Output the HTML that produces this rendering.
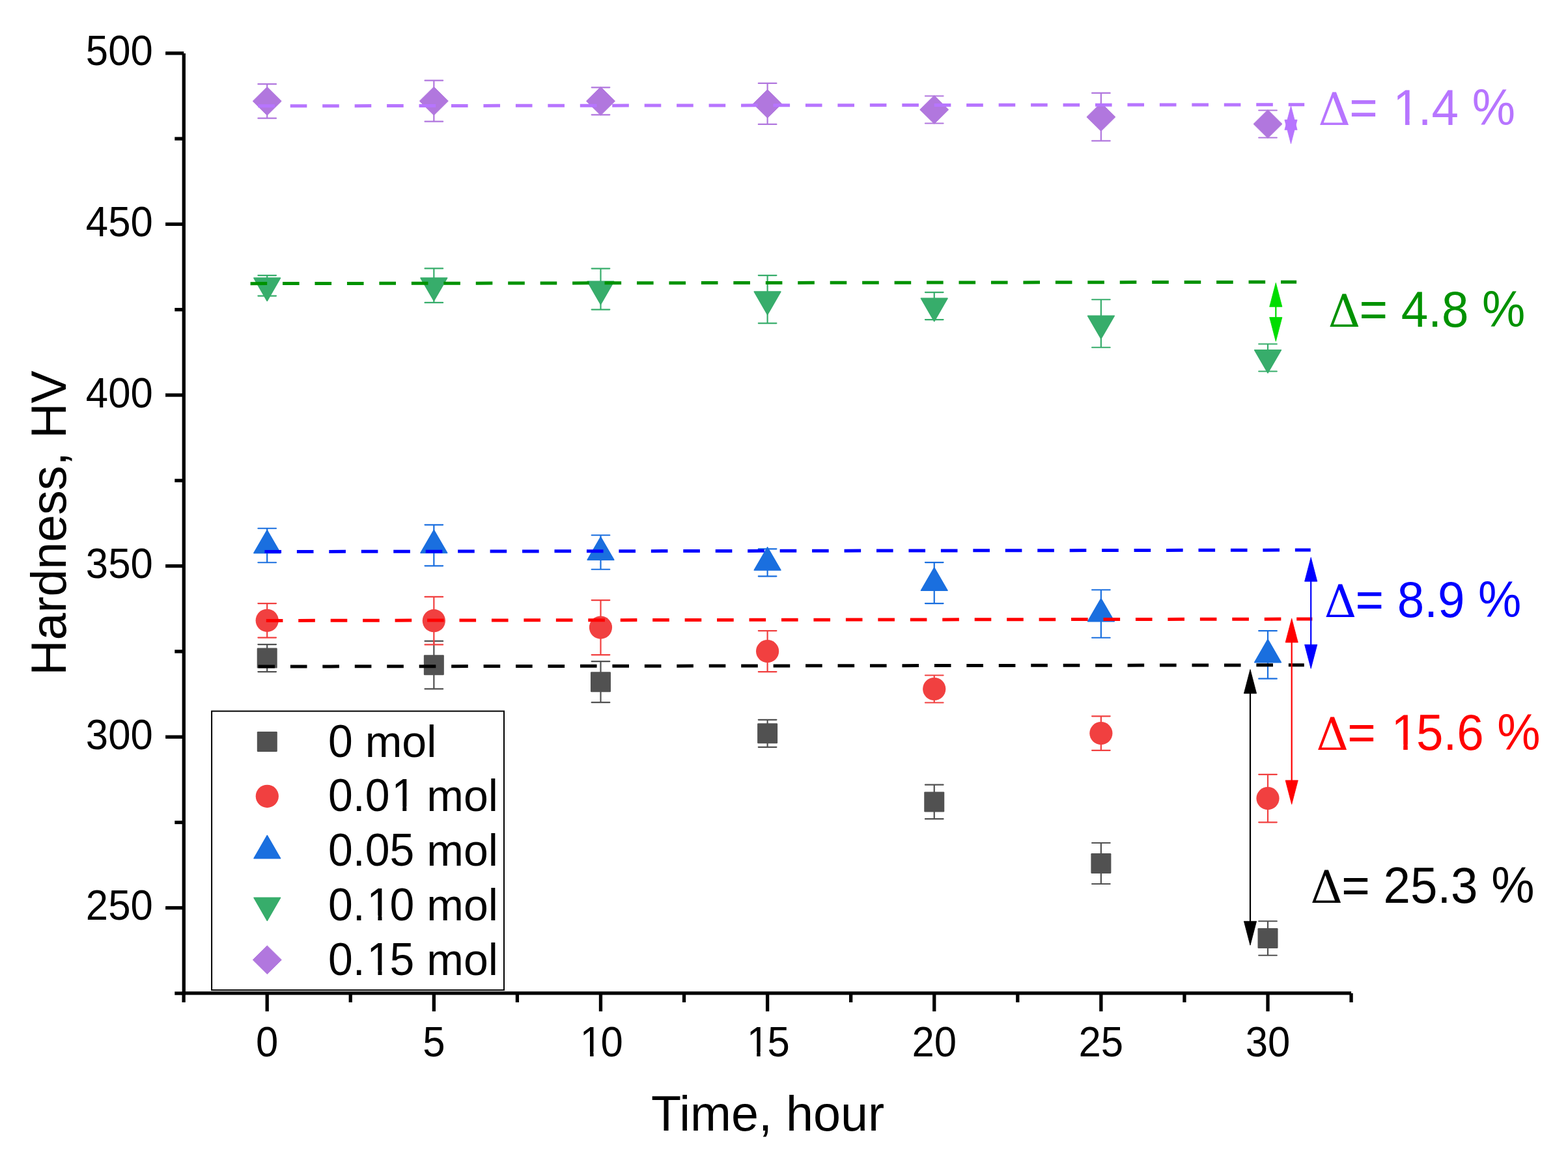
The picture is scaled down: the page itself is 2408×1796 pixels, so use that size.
<!DOCTYPE html>
<html><head><meta charset="utf-8"><title>Hardness vs Time</title><style>html,body{margin:0;padding:0;background:#fff;}svg{display:block;}</style></head><body>
<svg width="2408" height="1796" viewBox="0 0 2408 1796">
<rect width="2408" height="1796" fill="#fff"/>
<g stroke="#000" stroke-width="5.3" stroke-linecap="butt"><line x1="282.3" y1="82.10" x2="282.3" y2="1528.55"/><line x1="279.65" y1="1525.9" x2="2075.08" y2="1525.9"/><line x1="254.1" y1="1394.80" x2="282.30" y2="1394.80"/><line x1="254.1" y1="1132.20" x2="282.30" y2="1132.20"/><line x1="254.1" y1="869.60" x2="282.30" y2="869.60"/><line x1="254.1" y1="607.00" x2="282.30" y2="607.00"/><line x1="254.1" y1="344.40" x2="282.30" y2="344.40"/><line x1="254.1" y1="81.80" x2="282.30" y2="81.80"/><line x1="268.3" y1="1526.10" x2="282.30" y2="1526.10"/><line x1="268.3" y1="1263.50" x2="282.30" y2="1263.50"/><line x1="268.3" y1="1000.90" x2="282.30" y2="1000.90"/><line x1="268.3" y1="738.30" x2="282.30" y2="738.30"/><line x1="268.3" y1="475.70" x2="282.30" y2="475.70"/><line x1="268.3" y1="213.10" x2="282.30" y2="213.10"/><line x1="410.20" y1="1525.90" x2="410.20" y2="1553.8"/><line x1="666.34" y1="1525.90" x2="666.34" y2="1553.8"/><line x1="922.47" y1="1525.90" x2="922.47" y2="1553.8"/><line x1="1178.61" y1="1525.90" x2="1178.61" y2="1553.8"/><line x1="1434.74" y1="1525.90" x2="1434.74" y2="1553.8"/><line x1="1690.88" y1="1525.90" x2="1690.88" y2="1553.8"/><line x1="1947.01" y1="1525.90" x2="1947.01" y2="1553.8"/><line x1="282.13" y1="1525.90" x2="282.13" y2="1539.9"/><line x1="538.27" y1="1525.90" x2="538.27" y2="1539.9"/><line x1="794.40" y1="1525.90" x2="794.40" y2="1539.9"/><line x1="1050.54" y1="1525.90" x2="1050.54" y2="1539.9"/><line x1="1306.67" y1="1525.90" x2="1306.67" y2="1539.9"/><line x1="1562.81" y1="1525.90" x2="1562.81" y2="1539.9"/><line x1="1818.94" y1="1525.90" x2="1818.94" y2="1539.9"/><line x1="2075.08" y1="1525.90" x2="2075.08" y2="1539.9"/></g>
<g font-family="Liberation Sans, sans-serif" font-size="61.7" fill="#000"><text transform="translate(234.8,1413.30) scale(1,1.045)" text-anchor="end">250</text><text transform="translate(234.8,1150.70) scale(1,1.045)" text-anchor="end">300</text><text transform="translate(234.8,888.10) scale(1,1.045)" text-anchor="end">350</text><text transform="translate(234.8,625.50) scale(1,1.045)" text-anchor="end">400</text><text transform="translate(234.8,362.90) scale(1,1.045)" text-anchor="end">450</text><text transform="translate(234.8,100.30) scale(1,1.045)" text-anchor="end">500</text><g transform="translate(393.04,1622.7) scale(1,1.045)"><text>0</text></g><g transform="translate(649.18,1622.7) scale(1,1.045)"><text>5</text></g><g transform="translate(888.16,1622.7) scale(1,1.045)"><text><tspan dx="2.41">1</tspan><tspan dx="-2.41">0</tspan></text><g fill="#fff"><rect x="5.72" y="-6.48" width="12.20" height="7.68"/><rect x="23.38" y="-6.48" width="11.42" height="7.68"/></g></g><g transform="translate(1144.29,1622.7) scale(1,1.045)"><text><tspan dx="2.41">1</tspan><tspan dx="-2.41">5</tspan></text><g fill="#fff"><rect x="5.72" y="-6.48" width="12.20" height="7.68"/><rect x="23.38" y="-6.48" width="11.42" height="7.68"/></g></g><g transform="translate(1400.43,1622.7) scale(1,1.045)"><text>20</text></g><g transform="translate(1656.56,1622.7) scale(1,1.045)"><text>25</text></g><g transform="translate(1912.70,1622.7) scale(1,1.045)"><text>30</text></g></g>
<text transform="translate(1179.0,1737.2) scale(1,1.015)" text-anchor="middle" font-family="Liberation Sans, sans-serif" font-size="75.55" fill="#000">Time, hour</text>
<text transform="translate(101.0,803.5) rotate(-90) scale(1,1.015)" text-anchor="middle" font-family="Liberation Sans, sans-serif" font-size="75.3" fill="#000">Hardness, HV</text>
<g stroke-width="2.2" stroke-linecap="round" fill="none"><path d="M410.20,990.09V1032.11M396.40,990.09h27.6M396.40,1032.11h27.6" stroke="#515151"/><path d="M666.34,984.94V1058.46M652.54,984.94h27.6M652.54,1058.46h27.6" stroke="#515151"/><path d="M922.47,1016.19V1079.21M908.67,1016.19h27.6M908.67,1079.21h27.6" stroke="#515151"/><path d="M1178.61,1105.79V1147.81M1164.81,1105.79h27.6M1164.81,1147.81h27.6" stroke="#515151"/><path d="M1434.74,1205.64V1258.16M1420.94,1205.64h27.6M1420.94,1258.16h27.6" stroke="#515151"/><path d="M1690.88,1294.99V1358.01M1677.08,1294.99h27.6M1677.08,1358.01h27.6" stroke="#515151"/><path d="M1947.01,1415.24V1467.76M1933.21,1415.24h27.6M1933.21,1467.76h27.6" stroke="#515151"/><path d="M410.20,927.04V979.56M396.40,927.04h27.6M396.40,979.56h27.6" stroke="#F14040"/><path d="M666.34,916.94V990.46M652.54,916.94h27.6M652.54,990.46h27.6" stroke="#F14040"/><path d="M922.47,922.08V1006.12M908.67,922.08h27.6M908.67,1006.12h27.6" stroke="#F14040"/><path d="M1178.61,969.09V1032.11M1164.81,969.09h27.6M1164.81,1032.11h27.6" stroke="#F14040"/><path d="M1434.74,1037.49V1079.51M1420.94,1037.49h27.6M1420.94,1079.51h27.6" stroke="#F14040"/><path d="M1690.88,1100.34V1152.86M1677.08,1100.34h27.6M1677.08,1152.86h27.6" stroke="#F14040"/><path d="M1947.01,1189.84V1263.36M1933.21,1189.84h27.6M1933.21,1263.36h27.6" stroke="#F14040"/><path d="M410.20,811.74V864.26M396.40,811.74h27.6M396.40,864.26h27.6" stroke="#1A6FDF"/><path d="M666.34,806.29V869.31M652.54,806.29h27.6M652.54,869.31h27.6" stroke="#1A6FDF"/><path d="M922.47,822.24V874.76M908.67,822.24h27.6M908.67,874.76h27.6" stroke="#1A6FDF"/><path d="M1178.61,843.29V885.31M1164.81,843.29h27.6M1164.81,885.31h27.6" stroke="#1A6FDF"/><path d="M1434.74,864.09V927.11M1420.94,864.09h27.6M1420.94,927.11h27.6" stroke="#1A6FDF"/><path d="M1690.88,906.24V979.76M1677.08,906.24h27.6M1677.08,979.76h27.6" stroke="#1A6FDF"/><path d="M1947.01,969.14V1042.66M1933.21,969.14h27.6M1933.21,1042.66h27.6" stroke="#1A6FDF"/><path d="M410.20,423.04V454.56M396.40,423.04h27.6M396.40,454.56h27.6" stroke="#37AD6B"/><path d="M666.34,412.44V464.96M652.54,412.44h27.6M652.54,464.96h27.6" stroke="#37AD6B"/><path d="M922.47,412.59V475.61M908.67,412.59h27.6M908.67,475.61h27.6" stroke="#37AD6B"/><path d="M1178.61,423.04V496.56M1164.81,423.04h27.6M1164.81,496.56h27.6" stroke="#37AD6B"/><path d="M1434.74,449.09V491.11M1420.94,449.09h27.6M1420.94,491.11h27.6" stroke="#37AD6B"/><path d="M1690.88,460.24V533.76M1677.08,460.24h27.6M1677.08,533.76h27.6" stroke="#37AD6B"/><path d="M1947.01,528.49V570.51M1933.21,528.49h27.6M1933.21,570.51h27.6" stroke="#37AD6B"/><path d="M410.20,129.14V181.66M396.40,129.14h27.6M396.40,181.66h27.6" stroke="#B177DE"/><path d="M666.34,123.69V186.71M652.54,123.69h27.6M652.54,186.71h27.6" stroke="#B177DE"/><path d="M922.47,134.29V176.31M908.67,134.29h27.6M908.67,176.31h27.6" stroke="#B177DE"/><path d="M1178.61,127.89V190.91M1164.81,127.89h27.6M1164.81,190.91h27.6" stroke="#B177DE"/><path d="M1434.74,147.49V189.51M1420.94,147.49h27.6M1420.94,189.51h27.6" stroke="#B177DE"/><path d="M1690.88,142.94V216.46M1677.08,142.94h27.6M1677.08,216.46h27.6" stroke="#B177DE"/><path d="M1947.01,169.49V211.51M1933.21,169.49h27.6M1933.21,211.51h27.6" stroke="#B177DE"/></g>
<g><rect x="394.70" y="995.60" width="31.0" height="31.0" rx="1.2" fill="#515151"/><rect x="650.84" y="1006.20" width="31.0" height="31.0" rx="1.2" fill="#515151"/><rect x="906.97" y="1032.20" width="31.0" height="31.0" rx="1.2" fill="#515151"/><rect x="1163.11" y="1111.30" width="31.0" height="31.0" rx="1.2" fill="#515151"/><rect x="1419.24" y="1216.40" width="31.0" height="31.0" rx="1.2" fill="#515151"/><rect x="1675.38" y="1311.00" width="31.0" height="31.0" rx="1.2" fill="#515151"/><rect x="1931.51" y="1426.00" width="31.0" height="31.0" rx="1.2" fill="#515151"/><circle cx="410.20" cy="953.30" r="17.6" fill="#F14040"/><circle cx="666.34" cy="953.70" r="17.6" fill="#F14040"/><circle cx="922.47" cy="964.10" r="17.6" fill="#F14040"/><circle cx="1178.61" cy="1000.60" r="17.6" fill="#F14040"/><circle cx="1434.74" cy="1058.50" r="17.6" fill="#F14040"/><circle cx="1690.88" cy="1126.60" r="17.6" fill="#F14040"/><circle cx="1947.01" cy="1226.60" r="17.6" fill="#F14040"/><path d="M410.20,814.56 L430.50,849.72 L389.90,849.72 Z" fill="#1A6FDF" stroke="#1A6FDF" stroke-width="1.6" stroke-linejoin="round"/><path d="M666.34,814.36 L686.63,849.52 L646.04,849.52 Z" fill="#1A6FDF" stroke="#1A6FDF" stroke-width="1.6" stroke-linejoin="round"/><path d="M922.47,825.06 L942.77,860.22 L902.17,860.22 Z" fill="#1A6FDF" stroke="#1A6FDF" stroke-width="1.6" stroke-linejoin="round"/><path d="M1178.61,840.86 L1198.90,876.02 L1158.31,876.02 Z" fill="#1A6FDF" stroke="#1A6FDF" stroke-width="1.6" stroke-linejoin="round"/><path d="M1434.74,872.16 L1455.04,907.32 L1414.44,907.32 Z" fill="#1A6FDF" stroke="#1A6FDF" stroke-width="1.6" stroke-linejoin="round"/><path d="M1690.88,919.56 L1711.17,954.72 L1670.58,954.72 Z" fill="#1A6FDF" stroke="#1A6FDF" stroke-width="1.6" stroke-linejoin="round"/><path d="M1947.01,982.46 L1967.31,1017.62 L1926.71,1017.62 Z" fill="#1A6FDF" stroke="#1A6FDF" stroke-width="1.6" stroke-linejoin="round"/><path d="M410.20,462.24 L430.50,427.08 L389.90,427.08 Z" fill="#37AD6B" stroke="#37AD6B" stroke-width="1.6" stroke-linejoin="round"/><path d="M666.34,462.14 L686.63,426.98 L646.04,426.98 Z" fill="#37AD6B" stroke="#37AD6B" stroke-width="1.6" stroke-linejoin="round"/><path d="M922.47,467.54 L942.77,432.38 L902.17,432.38 Z" fill="#37AD6B" stroke="#37AD6B" stroke-width="1.6" stroke-linejoin="round"/><path d="M1178.61,483.24 L1198.90,448.08 L1158.31,448.08 Z" fill="#37AD6B" stroke="#37AD6B" stroke-width="1.6" stroke-linejoin="round"/><path d="M1434.74,493.54 L1455.04,458.38 L1414.44,458.38 Z" fill="#37AD6B" stroke="#37AD6B" stroke-width="1.6" stroke-linejoin="round"/><path d="M1690.88,520.44 L1711.17,485.28 L1670.58,485.28 Z" fill="#37AD6B" stroke="#37AD6B" stroke-width="1.6" stroke-linejoin="round"/><path d="M1947.01,572.94 L1967.31,537.78 L1926.71,537.78 Z" fill="#37AD6B" stroke="#37AD6B" stroke-width="1.6" stroke-linejoin="round"/><path d="M410.20,133.60 L432.20,155.40 L410.20,177.20 L388.20,155.40 Z" fill="#B177DE" stroke="#B177DE" stroke-width="1" stroke-linejoin="round"/><path d="M666.34,133.40 L688.34,155.20 L666.34,177.00 L644.34,155.20 Z" fill="#B177DE" stroke="#B177DE" stroke-width="1" stroke-linejoin="round"/><path d="M922.47,133.50 L944.47,155.30 L922.47,177.10 L900.47,155.30 Z" fill="#B177DE" stroke="#B177DE" stroke-width="1" stroke-linejoin="round"/><path d="M1178.61,137.60 L1200.61,159.40 L1178.61,181.20 L1156.61,159.40 Z" fill="#B177DE" stroke="#B177DE" stroke-width="1" stroke-linejoin="round"/><path d="M1434.74,146.70 L1456.74,168.50 L1434.74,190.30 L1412.74,168.50 Z" fill="#B177DE" stroke="#B177DE" stroke-width="1" stroke-linejoin="round"/><path d="M1690.88,157.90 L1712.88,179.70 L1690.88,201.50 L1668.88,179.70 Z" fill="#B177DE" stroke="#B177DE" stroke-width="1" stroke-linejoin="round"/><path d="M1947.01,168.70 L1969.01,190.50 L1947.01,212.30 L1925.01,190.50 Z" fill="#B177DE" stroke="#B177DE" stroke-width="1" stroke-linejoin="round"/></g>
<g stroke-width="5.0" stroke-dasharray="25.6 23.85" fill="none"><line x1="396.3" y1="162.85" x2="2003.2" y2="160.75" stroke="#B775FF"/><line x1="384.6" y1="435.65" x2="1991.1" y2="433.25" stroke="#009200"/><line x1="406.45" y1="847.55" x2="2012.7" y2="845.05" stroke="#0000FF"/><line x1="408.8" y1="953.45" x2="2015.3" y2="951.05" stroke="#FF0000"/><line x1="396.45" y1="1024.05" x2="2002.8" y2="1021.75" stroke="#000000"/></g>
<g><line x1="1982.5" y1="198.60" x2="1982.5" y2="185.10" stroke="#B775FF" stroke-width="2.2"/><path d="M1982.5,162.8 L1992.10,199.60 L1972.90,199.60 Z" fill="#B775FF" stroke="#B775FF" stroke-width="0.8" stroke-linejoin="round"/><path d="M1982.5,220.9 L1992.10,184.10 L1972.90,184.10 Z" fill="#B775FF" stroke="#B775FF" stroke-width="0.8" stroke-linejoin="round"/><line x1="1959.3" y1="470.30" x2="1959.3" y2="488.60" stroke="#00DD00" stroke-width="2.2"/><path d="M1959.3,434.5 L1968.90,471.30 L1949.70,471.30 Z" fill="#00DD00" stroke="#00DD00" stroke-width="0.8" stroke-linejoin="round"/><path d="M1959.3,524.4 L1968.90,487.60 L1949.70,487.60 Z" fill="#00DD00" stroke="#00DD00" stroke-width="0.8" stroke-linejoin="round"/><line x1="2013.2" y1="892.20" x2="2013.2" y2="991.40" stroke="#0000FF" stroke-width="2.2"/><path d="M2013.2,856.4 L2022.80,893.20 L2003.60,893.20 Z" fill="#0000FF" stroke="#0000FF" stroke-width="0.8" stroke-linejoin="round"/><path d="M2013.2,1027.2 L2022.80,990.40 L2003.60,990.40 Z" fill="#0000FF" stroke="#0000FF" stroke-width="0.8" stroke-linejoin="round"/><line x1="1983.7" y1="986.00" x2="1983.7" y2="1199.90" stroke="#FF0000" stroke-width="2.2"/><path d="M1983.7,950.2 L1993.30,987.00 L1974.10,987.00 Z" fill="#FF0000" stroke="#FF0000" stroke-width="0.8" stroke-linejoin="round"/><path d="M1983.7,1235.7 L1993.30,1198.90 L1974.10,1198.90 Z" fill="#FF0000" stroke="#FF0000" stroke-width="0.8" stroke-linejoin="round"/><line x1="1920.0" y1="1064.30" x2="1920.0" y2="1416.40" stroke="#000000" stroke-width="2.2"/><path d="M1920.0,1028.5 L1929.60,1065.30 L1910.40,1065.30 Z" fill="#000000" stroke="#000000" stroke-width="0.8" stroke-linejoin="round"/><path d="M1920.0,1452.2 L1929.60,1415.40 L1910.40,1415.40 Z" fill="#000000" stroke="#000000" stroke-width="0.8" stroke-linejoin="round"/></g>
<g fill="#B775FF"><text x="2024.39" y="191.9" font-family="DejaVu Serif, serif" font-size="68.5">Δ</text><g transform="translate(2072.16,191.9) scale(1,1.04)"><text font-family="Liberation Sans, sans-serif" font-size="74.5" xml:space="preserve">= <tspan dx="2.91">1</tspan><tspan dx="-2.91">.</tspan>4 %</text><g fill="#fff"><rect x="71.12" y="-7.82" width="14.73" height="9.28"/><rect x="92.43" y="-7.82" width="13.79" height="9.28"/></g></g></g>
<g fill="#009200"><text x="2039.79" y="501.8" font-family="DejaVu Serif, serif" font-size="68.5">Δ</text><g transform="translate(2087.56,501.8) scale(1,1.04)"><text font-family="Liberation Sans, sans-serif" font-size="74.5" xml:space="preserve">= 4.8 %</text></g></g>
<g fill="#0000FF"><text x="2033.79" y="947.7" font-family="DejaVu Serif, serif" font-size="68.5">Δ</text><g transform="translate(2081.56,947.7) scale(1,1.04)"><text font-family="Liberation Sans, sans-serif" font-size="74.5" xml:space="preserve">= 8.9 %</text></g></g>
<g fill="#FF0000"><text x="2021.59" y="1151.8" font-family="DejaVu Serif, serif" font-size="68.5">Δ</text><g transform="translate(2069.36,1151.8) scale(1,1.04)"><text font-family="Liberation Sans, sans-serif" font-size="74.5" xml:space="preserve">= <tspan dx="2.91">1</tspan><tspan dx="-2.91">5</tspan>.6 %</text><g fill="#fff"><rect x="71.12" y="-7.82" width="14.73" height="9.28"/><rect x="92.43" y="-7.82" width="13.79" height="9.28"/></g></g></g>
<g fill="#000000"><text x="2012.59" y="1386.6" font-family="DejaVu Serif, serif" font-size="68.5">Δ</text><g transform="translate(2060.36,1386.6) scale(1,1.04)"><text font-family="Liberation Sans, sans-serif" font-size="74.5" xml:space="preserve">= 25.3 %</text></g></g>
<g><rect x="325.1" y="1092.6" width="448.9" height="428.5" fill="#fff" stroke="#000" stroke-width="2"/><rect x="394.80" y="1124.00" width="31.0" height="31.0" rx="1.2" fill="#515151"/><g transform="translate(504.0,1162.50) scale(1,1.037)"><text font-family="Liberation Sans, sans-serif" font-size="68" fill="#000">0</text></g><text x="541.82" y="1162.50" font-family="Liberation Sans, sans-serif" font-size="68" fill="#000" xml:space="preserve"> mol</text><circle cx="410.30" cy="1223.30" r="17.6" fill="#F14040"/><g transform="translate(504.0,1246.30) scale(1,1.037)"><text font-family="Liberation Sans, sans-serif" font-size="68" fill="#000">0.0<tspan dx="2.66">1</tspan></text><g fill="#fff"><rect x="100.84" y="-7.14" width="13.45" height="8.47"/><rect x="120.29" y="-7.14" width="12.58" height="8.47"/></g></g><text x="636.35" y="1246.30" font-family="Liberation Sans, sans-serif" font-size="68" fill="#000" xml:space="preserve"> mol</text><path d="M410.30,1283.66 L430.60,1318.82 L390.00,1318.82 Z" fill="#1A6FDF" stroke="#1A6FDF" stroke-width="1.6" stroke-linejoin="round"/><g transform="translate(504.0,1330.10) scale(1,1.037)"><text font-family="Liberation Sans, sans-serif" font-size="68" fill="#000">0.05</text></g><text x="636.35" y="1330.10" font-family="Liberation Sans, sans-serif" font-size="68" fill="#000" xml:space="preserve"> mol</text><path d="M410.30,1414.34 L430.60,1379.18 L390.00,1379.18 Z" fill="#37AD6B" stroke="#37AD6B" stroke-width="1.6" stroke-linejoin="round"/><g transform="translate(504.0,1413.90) scale(1,1.037)"><text font-family="Liberation Sans, sans-serif" font-size="68" fill="#000">0.<tspan dx="2.66">1</tspan><tspan dx="-2.66">0</tspan></text><g fill="#fff"><rect x="63.02" y="-7.14" width="13.45" height="8.47"/><rect x="82.48" y="-7.14" width="12.58" height="8.47"/></g></g><text x="636.35" y="1413.90" font-family="Liberation Sans, sans-serif" font-size="68" fill="#000" xml:space="preserve"> mol</text><path d="M410.30,1452.90 L432.30,1474.70 L410.30,1496.50 L388.30,1474.70 Z" fill="#B177DE" stroke="#B177DE" stroke-width="1" stroke-linejoin="round"/><g transform="translate(504.0,1497.70) scale(1,1.037)"><text font-family="Liberation Sans, sans-serif" font-size="68" fill="#000">0.<tspan dx="2.66">1</tspan><tspan dx="-2.66">5</tspan></text><g fill="#fff"><rect x="63.02" y="-7.14" width="13.45" height="8.47"/><rect x="82.48" y="-7.14" width="12.58" height="8.47"/></g></g><text x="636.35" y="1497.70" font-family="Liberation Sans, sans-serif" font-size="68" fill="#000" xml:space="preserve"> mol</text></g>
</svg>
</body></html>
